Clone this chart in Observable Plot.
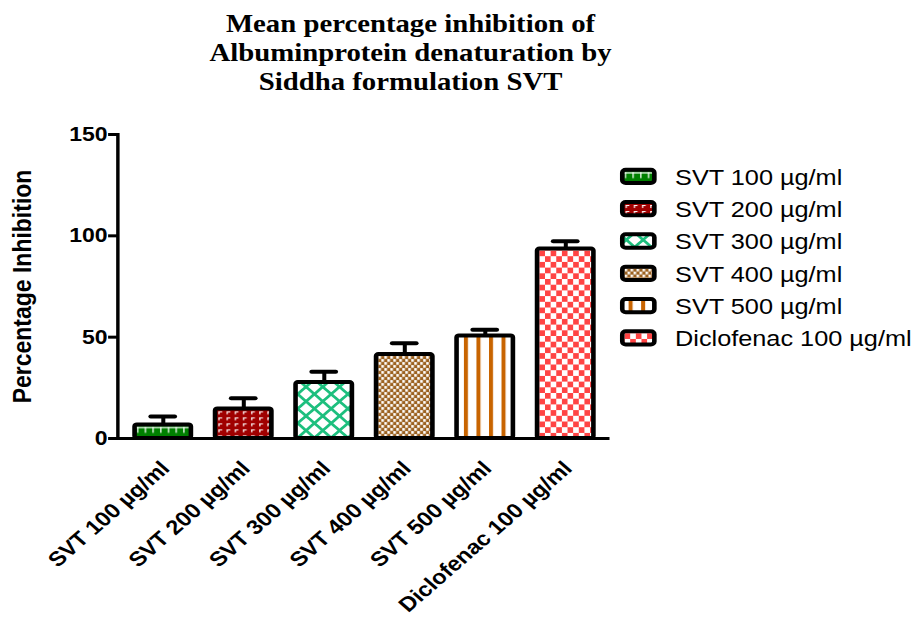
<!DOCTYPE html>
<html>
<head>
<meta charset="utf-8">
<script src="https://cdn.jsdelivr.net/npm/d3@7"></script>
<script src="https://cdn.jsdelivr.net/npm/@observablehq/plot@0.6"></script>
<style>
html, body { margin: 0; padding: 0; background: #fff; overflow: hidden; }
#wrap { position: relative; width: 800px; height: 618px; transform: scaleX(1.15); transform-origin: 0 0; overflow: hidden; background: #fff; }
#title { position: absolute; left: 0; top: 9px; width: 714px; text-align: center; font-family: "Liberation Serif", "Times New Roman", serif; font-weight: bold; font-size: 25px; line-height: 29px; color: #000; }
#chart { position: absolute; left: 0; top: 110px; }
#legend { position: absolute; left: 0; top: 0; }
#chart [aria-label="y-axis tick"] { stroke-width: 3px; }
</style>
</head>
<body>
<div id="wrap">
  <div id="title"></div>
  <div id="chart"></div>
  <svg id="legend" width="800" height="618"></svg>
</div>
<script>
// ---- data ----
const titleLines = ["Mean percentage inhibition of", "Albuminprotein denaturation by", "Siddha formulation SVT"];
const categories = ["SVT 100 µg/ml", "SVT 200 µg/ml", "SVT 300 µg/ml", "SVT 400 µg/ml", "SVT 500 µg/ml", "Diclofenac 100 µg/ml"];
const means = [6.7, 14.6, 27.6, 41.4, 50.6, 93.5];
const sds = [4.2, 5.3, 5.3, 5.6, 3.0, 3.8];
const yTicks = [0, 50, 100, 150];
const yLabel = "Percentage Inhibition";

// ---- styles (patterns) ----
const patternColors = ["#008000", "#a00000", "#1dbf7e", "#9c6221", "#c86400", "#ff4444"];

function addPattern(defs, id, k, x0, y0) {
  const c = patternColors[k];
  const p = defs.append("pattern").attr("id", id).attr("patternUnits", "userSpaceOnUse");
  const r = (x, y, w, h, f) => p.append("rect").attr("x", x).attr("y", y).attr("width", w).attr("height", h).attr("fill", f);
  if (k === 0) {
    p.attr("x", x0).attr("y", y0).attr("width", 6.7).attr("height", 60);
    r(0, 0, 6.7, 60, c); r(0, 0.4, 6.7, 1.3, "#fff"); r(0.2, 0.4, 1.1, 6, "#fff");
  } else if (k === 1) {
    p.attr("x", x0).attr("y", y0).attr("width", 7.1).attr("height", 6);
    r(0, 0, 7.1, 6, c); r(1, 1, 3.2, 1, "#fff"); r(1, 1, 1, 3, "#fff");
  } else if (k === 2) {
    p.attr("x", x0).attr("y", y0).attr("width", 10.3).attr("height", 10.3).attr("patternTransform", "rotate(45)");
    r(0, 0, 10.3, 10.3, "#fff"); r(0, 0, 10.3, 2.6, c); r(0, 0, 2.6, 10.3, c);
  } else if (k === 3) {
    p.attr("x", x0).attr("y", y0).attr("width", 5.2).attr("height", 6);
    r(0, 0, 5.2, 6, c); r(0, 0, 2.3, 2.7, "#fff"); r(2.6, 3, 2.3, 2.7, "#fff");
  } else if (k === 4) {
    p.attr("x", x0).attr("y", y0).attr("width", 10.9).attr("height", 10);
    r(0, 0, 10.9, 10, "#fff"); r(0, 0, 3.5, 10, c);
  } else {
    p.attr("x", x0).attr("y", y0).attr("width", 9.8).attr("height", 11.4);
    r(0, 0, 9.8, 11.4, "#fff"); r(0, 0, 4.9, 5.7, c); r(4.9, 5.7, 4.9, 5.7, c);
  }
}

document.getElementById("title").innerHTML = titleLines.join("<br>");

const rows = categories.map((name, i) => ({name, mean: means[i], sd: sds[i]}));

const plot = Plot.plot({
  width: 800,
  height: 508,
  marginLeft: 102,
  marginRight: 270,
  marginTop: 24,
  marginBottom: 180,
  style: {fontFamily: '"Liberation Sans", Arial, sans-serif', background: "transparent", color: "#000", overflow: "visible"},
  x: {domain: categories, paddingInner: 0.3, paddingOuter: 0.166, axis: null},
  y: {domain: [0, 150]},
  color: {type: "identity"},
  marks: [
    Plot.axisY({ticks: yTicks, tickSize: 8, tickPadding: 1, fontSize: 20, fontWeight: "bold", label: null}),
    Plot.ruleX(rows, {x: "name", y1: "mean", y2: d => d.mean + d.sd, strokeWidth: 3.5}),
    Plot.barY(rows, {x: "name", y: "mean", fill: (d, i) => `url(#bar${i})`, stroke: "#000", strokeWidth: 4, rx: 2}),
    Plot.tickY(rows, {x: "name", y: d => d.mean + d.sd, strokeWidth: 4, strokeLinecap: "round", insetLeft: 14, insetRight: 14}),
    Plot.frame({anchor: "left", strokeWidth: 3}),
    Plot.ruleY([0], {strokeWidth: 3}),
    Plot.text(categories, {x: d => d, text: d => d, frameAnchor: "bottom", rotate: -45, textAnchor: "end", lineAnchor: "middle", dx: 2, dy: 26.5, fontSize: 20.5, fontWeight: "bold"}),
    Plot.text([yLabel], {text: d => d, frameAnchor: "left", textAnchor: "middle", lineAnchor: "middle", rotate: -90, dx: -83, fontSize: 23, fontWeight: "bold"})
  ]
});
document.getElementById("chart").appendChild(plot);

// patterns aligned to bars using the plot's scales
const xs = plot.scale("x"), ys = plot.scale("y");
const defs = d3.select(plot).insert("defs", ":first-child");
const barOffsets = [[2, 2], [2, 2], [2, 2], [2, 2], [6.4, 0], [2, 2]];
rows.forEach((d, i) => {
  const left = xs.apply(d.name);
  const top = ys.apply(d.mean);
  addPattern(defs, `bar${i}`, i, left + barOffsets[i][0], top + barOffsets[i][1]);
});

// legend
const lg = d3.select("#legend");
const ldefs = lg.append("defs");
categories.forEach((name, i) => {
  const cy = 176.4 + 32.3 * i;
  const x = 541.1, w = 27.9, h = 13.3, y = cy - h / 2;
  addPattern(ldefs, `leg${i}`, i, x + 2 + (i === 4 ? 3.5 : 0), y + 2);
  lg.append("rect").attr("x", x).attr("y", y).attr("width", w).attr("height", h).attr("rx", 3)
    .attr("fill", `url(#leg${i})`).attr("stroke", "#000").attr("stroke-width", 4);
  lg.append("text").attr("x", 587).attr("y", cy).attr("dy", "0.38em")
    .attr("font-family", '"Liberation Sans", Arial, sans-serif').attr("font-size", 22).attr("fill", "#000")
    .text(name);
});
</script>
</body>
</html>
